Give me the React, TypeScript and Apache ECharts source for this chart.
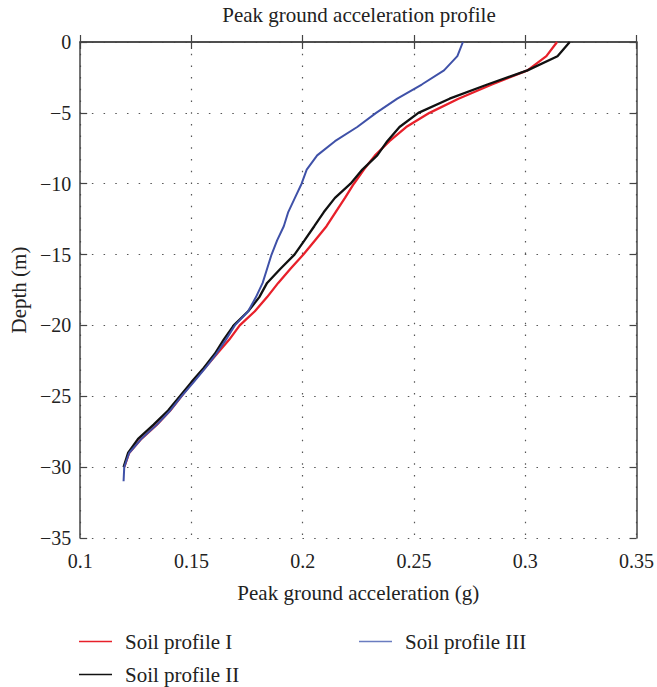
import React, { useEffect, useRef } from "react";
import * as echarts from "echarts";

const depths = [0, -1, -2, -3, -4, -5, -6, -7, -8, -9, -10, -11, -12, -13, -14, -15, -16, -17, -18, -19, -20, -21, -22, -23, -24, -25, -26, -27, -28, -29, -30, -31];

const soilI = [0.3143, 0.3095, 0.301, 0.285, 0.27, 0.257, 0.2465, 0.239, 0.2325, 0.2275, 0.223, 0.219, 0.2148, 0.2107, 0.2055, 0.2003, 0.1945, 0.189, 0.184, 0.1785, 0.1717, 0.167, 0.1615, 0.156, 0.1505, 0.1455, 0.1405, 0.1345, 0.1275, 0.122, 0.1198];
const soilII = [0.32, 0.3145, 0.301, 0.283, 0.266, 0.252, 0.2435, 0.238, 0.2335, 0.2268, 0.2215, 0.2145, 0.2095, 0.2052, 0.2008, 0.1963, 0.19, 0.184, 0.1805, 0.1755, 0.169, 0.1645, 0.1605, 0.1555, 0.15, 0.1448, 0.1395, 0.133, 0.126, 0.1215, 0.1195];
const soilIII = [0.272, 0.2695, 0.2635, 0.2535, 0.2425, 0.233, 0.2245, 0.2145, 0.2065, 0.2018, 0.1995, 0.1965, 0.1935, 0.1915, 0.1885, 0.186, 0.184, 0.182, 0.179, 0.1755, 0.1695, 0.1655, 0.1612, 0.1563, 0.151, 0.1455, 0.1405, 0.1345, 0.1275, 0.122, 0.1198, 0.1195];

const seriesNames = ["Soil profile I", "Soil profile II", "Soil profile III"];
const seriesColors = ["#e8202a", "#111111", "#3f51a8"];
const legendColors = ["#e8202a", "#111111", "#6a7cc0"];

const FONT = "Liberation Serif";
const TEXT = "#222";

function pairs(vals: number[]) {
  return vals.map((v, i) => [v, depths[i]]);
}

export default function App() {
  const ref = useRef<HTMLDivElement>(null);
  useEffect(() => {
    if (!ref.current) return;
    const chart = echarts.init(ref.current, null, { renderer: "svg" });
    const axisColor = "#444";
    const gridLine = { show: true, lineStyle: { type: [1.5, 10.2] as any, color: "#555", width: 1.2 } };
    const minus = (s: string) => s.replace("-", "\u2212");
    const legendBase = {
      icon: "rect",
      itemWidth: 33,
      itemHeight: 1.6,
      padding: 0,
      textStyle: { fontFamily: FONT, fontSize: 21, color: TEXT, padding: [0, 0, 0, 8] },
    };
    chart.setOption({
      animation: false,
      backgroundColor: "#fff",
      title: {
        text: "Peak ground acceleration profile",
        left: 359,
        textAlign: "center",
        top: 4,
        padding: 0,
        textStyle: { fontFamily: FONT, fontSize: 21, fontWeight: "normal", color: TEXT },
      },
      grid: { left: 79, top: 42, right: 17, bottom: 149, containLabel: false },
      legend: [
        { ...legendBase, data: [seriesNames[0]], left: 79, top: 631 },
        { ...legendBase, data: [seriesNames[1]], left: 79, top: 664 },
        { ...legendBase, data: [seriesNames[2]], left: 359, top: 631 },
      ],
      xAxis: [
        {
          type: "value",
          min: 0.1,
          max: 0.35,
          interval: 0.05,
          name: "Peak ground acceleration (g)",
          nameLocation: "middle",
          nameGap: 44,
          nameTextStyle: { fontFamily: FONT, fontSize: 21, color: TEXT },
          axisLine: { show: true, lineStyle: { color: axisColor, width: 1.5 } },
          axisTick: { show: true, inside: true, length: 7, lineStyle: { color: axisColor, width: 1.2 } },
          axisLabel: { fontFamily: FONT, fontSize: 20, color: TEXT, margin: 13, formatter: (v: number) => String(+v.toFixed(2)) },
          splitLine: gridLine,
        },
        {
          type: "value",
          position: "top",
          min: 0.1,
          max: 0.35,
          interval: 0.05,
          axisLine: { show: true, lineStyle: { color: axisColor, width: 1.5 } },
          axisTick: { show: true, inside: true, length: 7, lineStyle: { color: axisColor, width: 1.2 } },
          axisLabel: { show: false },
          splitLine: { show: false },
        },
      ],
      yAxis: [
        {
          type: "value",
          min: -35,
          max: 0,
          interval: 5,
          name: "Depth (m)",
          nameLocation: "middle",
          nameGap: 51,
          nameTextStyle: { fontFamily: FONT, fontSize: 21, color: TEXT },
          axisLine: { show: true, lineStyle: { color: axisColor, width: 1.5 } },
          axisTick: { show: true, inside: true, length: 7, lineStyle: { color: axisColor, width: 1.2 } },
          axisLabel: { fontFamily: FONT, fontSize: 20, color: TEXT, margin: 9, formatter: (v: number) => minus(String(v)) },
          splitLine: gridLine,
        },
        {
          type: "value",
          position: "right",
          min: -35,
          max: 0,
          interval: 5,
          axisLine: { show: true, lineStyle: { color: axisColor, width: 1.5 } },
          axisTick: { show: true, inside: true, length: 7, lineStyle: { color: axisColor, width: 1.2 } },
          axisLabel: { show: false },
          splitLine: { show: false },
        },
      ],
      series: [
        { name: seriesNames[0], type: "line", data: pairs(soilI), showSymbol: false, lineStyle: { color: seriesColors[0], width: 2.3 }, itemStyle: { color: legendColors[0] } },
        { name: seriesNames[1], type: "line", data: pairs(soilII), showSymbol: false, lineStyle: { color: seriesColors[1], width: 2.3 }, itemStyle: { color: legendColors[1] } },
        { name: seriesNames[2], type: "line", data: pairs(soilIII), showSymbol: false, lineStyle: { color: seriesColors[2], width: 2 }, itemStyle: { color: legendColors[2] } },
      ],
    });
    return () => chart.dispose();
  }, []);
  return <div ref={ref} style={{ width: 657, height: 687, position: "absolute", left: 0, top: 0 }} />;
}
